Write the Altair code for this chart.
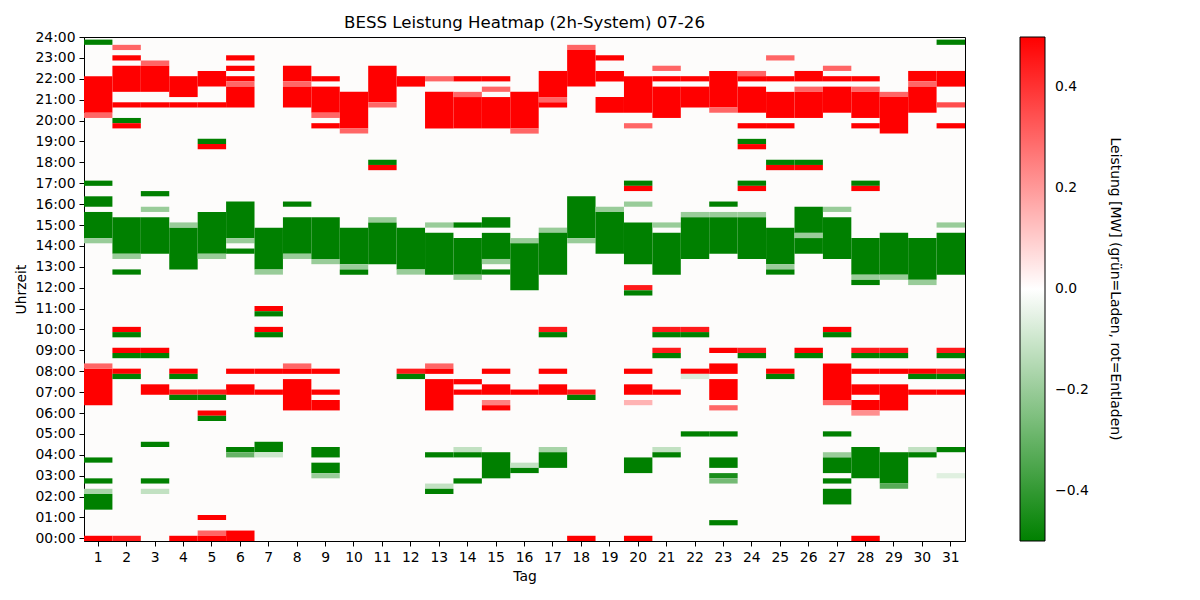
import altair as alt
import pandas as pd

TITLE = "BESS Leistung Heatmap (2h-System) 07-26"
CBAR_LABEL = "Leistung [MW] (grün=Laden, rot=Entladen)"
FONT = "DejaVu Sans"

# per day: (first quarter-hour, last quarter-hour, power in MW); anything not listed is 0
day01 = [("23:45", "23:45", -0.5), ("20:30", "22:00", 0.5), ("20:15", "20:15", 0.3),
         ("17:00", "17:00", -0.5), ("16:00", "16:15", -0.5), ("14:30", "15:30", -0.5),
         ("14:15", "14:15", -0.2), ("08:15", "08:15", 0.3), ("06:30", "08:00", 0.5),
         ("03:45", "03:45", -0.5), ("02:45", "02:45", -0.5), ("02:15", "02:15", -0.17),
         ("01:30", "02:00", -0.5), ("00:00", "00:00", 0.5)]
day02 = [("23:30", "23:30", 0.3), ("23:00", "23:00", 0.5), ("21:30", "22:30", 0.5),
         ("20:45", "20:45", 0.5), ("20:00", "20:00", -0.5), ("19:45", "19:45", 0.5),
         ("13:45", "15:15", -0.5), ("13:30", "13:30", -0.2), ("12:45", "12:45", -0.5),
         ("10:00", "10:00", 0.5), ("09:45", "09:45", -0.5), ("09:00", "09:00", 0.5),
         ("08:45", "08:45", -0.5), ("08:00", "08:00", 0.5), ("07:45", "07:45", -0.5),
         ("00:00", "00:00", 0.45)]
day03 = [("22:45", "22:45", 0.3), ("21:30", "22:30", 0.5), ("20:45", "20:45", 0.5),
         ("16:30", "16:30", -0.5), ("15:45", "15:45", -0.2), ("13:45", "15:15", -0.5),
         ("09:00", "09:00", 0.5), ("08:45", "08:45", -0.5), ("07:00", "07:15", 0.5),
         ("04:30", "04:30", -0.5), ("02:45", "02:45", -0.5), ("02:15", "02:15", -0.12)]
day04 = [("21:15", "22:00", 0.5), ("20:45", "20:45", 0.5), ("15:00", "15:00", -0.2),
         ("13:00", "14:45", -0.5), ("08:00", "08:00", 0.5), ("07:45", "07:45", -0.5),
         ("07:00", "07:00", 0.45), ("06:45", "06:45", -0.5), ("00:00", "00:00", 0.5)]
day05 = [("21:45", "22:15", 0.5), ("20:45", "20:45", 0.5), ("19:00", "19:00", -0.5),
         ("18:45", "18:45", 0.5), ("13:45", "15:30", -0.5), ("13:30", "13:30", -0.2),
         ("07:00", "07:00", 0.45), ("06:45", "06:45", -0.5), ("06:00", "06:00", 0.5),
         ("05:45", "05:45", -0.5), ("01:00", "01:00", 0.5), ("00:15", "00:15", 0.3),
         ("00:00", "00:00", 0.5)]
day06 = [("23:00", "23:00", 0.5), ("22:30", "22:30", 0.5), ("22:00", "22:00", 0.5),
         ("21:45", "21:45", 0.3), ("20:45", "21:30", 0.5), ("14:30", "16:00", -0.5),
         ("14:15", "14:15", -0.2), ("13:45", "13:45", -0.5), ("08:00", "08:00", 0.5),
         ("07:00", "07:15", 0.5), ("04:15", "04:15", -0.5), ("04:00", "04:00", -0.3),
         ("00:00", "00:15", 0.5)]
day07 = [("13:00", "14:45", -0.5), ("12:45", "12:45", -0.2), ("11:00", "11:00", 0.5),
         ("10:45", "10:45", -0.5), ("10:00", "10:00", 0.5), ("09:45", "09:45", -0.5),
         ("08:00", "08:00", 0.5), ("07:00", "07:00", 0.5), ("04:15", "04:30", -0.5),
         ("04:00", "04:00", -0.1)]
day08 = [("22:00", "22:30", 0.5), ("21:45", "21:45", 0.3), ("20:45", "21:30", 0.5),
         ("16:00", "16:00", -0.5), ("13:45", "15:15", -0.5), ("13:30", "13:30", -0.2),
         ("08:15", "08:15", 0.3), ("08:00", "08:00", 0.5), ("06:15", "07:30", 0.5)]
day09 = [("22:00", "22:00", 0.5), ("20:30", "21:30", 0.5), ("20:15", "20:15", 0.3),
         ("19:45", "19:45", 0.5), ("13:30", "15:15", -0.5), ("13:15", "13:15", -0.2),
         ("08:00", "08:00", 0.5), ("07:00", "07:00", 0.5), ("06:15", "06:30", 0.5),
         ("04:00", "04:15", -0.5), ("03:15", "03:30", -0.5), ("03:00", "03:00", -0.2)]
day10 = [("19:45", "21:15", 0.5), ("19:30", "19:30", 0.3), ("13:15", "14:45", -0.5),
         ("13:00", "13:00", -0.2), ("12:45", "12:45", -0.5)]
day11 = [("21:00", "22:30", 0.5), ("20:45", "20:45", 0.3), ("18:00", "18:00", -0.5),
         ("17:45", "17:45", 0.5), ("15:15", "15:15", -0.2), ("13:15", "15:00", -0.5)]
day12 = [("21:45", "22:00", 0.5), ("13:00", "14:45", -0.5), ("12:45", "12:45", -0.2),
         ("08:00", "08:00", 0.45), ("07:45", "07:45", -0.5)]
day13 = [("22:00", "22:00", 0.3), ("19:45", "21:15", 0.5), ("15:00", "15:00", -0.2),
         ("12:45", "14:30", -0.5), ("08:15", "08:15", 0.3), ("08:00", "08:00", 0.5),
         ("06:15", "07:30", 0.5), ("04:00", "04:00", -0.5), ("02:30", "02:30", -0.12),
         ("02:15", "02:15", -0.5)]
day14 = [("22:00", "22:00", 0.5), ("21:15", "21:15", 0.3), ("19:45", "21:00", 0.5),
         ("15:00", "15:00", -0.5), ("12:45", "14:15", -0.5), ("12:30", "12:30", -0.2),
         ("07:30", "07:30", 0.5), ("07:00", "07:00", 0.5), ("04:15", "04:15", -0.12),
         ("04:00", "04:00", -0.5), ("02:45", "02:45", -0.5)]
day15 = [("22:00", "22:00", 0.5), ("21:30", "21:30", 0.3), ("19:45", "21:00", 0.5),
         ("15:00", "15:15", -0.5), ("13:30", "14:30", -0.5), ("13:15", "13:15", -0.2),
         ("12:45", "12:45", -0.5), ("08:00", "08:00", 0.5), ("07:00", "07:15", 0.5),
         ("06:30", "06:30", 0.25), ("06:15", "06:15", 0.5), ("03:00", "04:00", -0.5)]
day16 = [("19:45", "21:15", 0.5), ("19:30", "19:30", 0.3), ("14:15", "14:15", -0.2),
         ("12:00", "14:00", -0.5), ("07:00", "07:00", 0.5), ("03:30", "03:30", -0.12),
         ("03:15", "03:15", -0.5)]
day17 = [("21:15", "22:15", 0.5), ("21:00", "21:00", 0.3), ("20:45", "20:45", 0.5),
         ("14:45", "14:45", -0.2), ("12:45", "14:30", -0.5), ("10:00", "10:00", 0.45),
         ("09:45", "09:45", -0.5), ("08:00", "08:00", 0.5), ("07:00", "07:15", 0.5),
         ("04:15", "04:15", -0.17), ("03:30", "04:00", -0.5)]
day18 = [("23:30", "23:30", 0.3), ("21:45", "23:15", 0.5), ("14:30", "16:15", -0.5),
         ("14:15", "14:15", -0.2), ("07:00", "07:00", 0.45), ("06:45", "06:45", -0.5),
         ("00:00", "00:00", 0.5)]
day19 = [("23:00", "23:00", 0.5), ("22:00", "22:15", 0.5), ("20:30", "21:00", 0.5),
         ("15:45", "15:45", -0.2), ("13:45", "15:30", -0.5)]
day20 = [("20:30", "22:00", 0.5), ("19:45", "19:45", 0.3), ("17:00", "17:00", -0.5),
         ("16:45", "16:45", 0.5), ("16:00", "16:00", -0.2), ("13:15", "15:00", -0.5),
         ("12:00", "12:00", 0.45), ("11:45", "11:45", -0.5), ("08:00", "08:00", 0.5),
         ("07:00", "07:15", 0.5), ("06:30", "06:30", 0.15), ("03:15", "03:45", -0.5),
         ("00:00", "00:00", 0.5)]
day21 = [("22:30", "22:30", 0.3), ("22:00", "22:00", 0.5), ("20:15", "21:30", 0.5),
         ("15:00", "15:00", -0.2), ("12:45", "14:30", -0.5), ("10:00", "10:00", 0.45),
         ("09:45", "09:45", -0.5), ("09:00", "09:00", 0.45), ("08:45", "08:45", -0.5),
         ("07:00", "07:00", 0.5), ("04:15", "04:15", -0.12), ("04:00", "04:00", -0.5)]
day22 = [("22:00", "22:00", 0.5), ("20:45", "21:30", 0.5), ("15:30", "15:30", -0.2),
         ("13:30", "15:15", -0.5), ("10:00", "10:00", 0.45), ("09:45", "09:45", -0.5),
         ("08:00", "08:00", 0.5), ("07:45", "07:45", -0.07), ("05:00", "05:00", -0.5)]
day23 = [("20:45", "22:15", 0.5), ("20:30", "20:30", 0.3), ("16:00", "16:00", -0.5),
         ("15:30", "15:30", -0.2), ("13:45", "15:15", -0.5), ("09:00", "09:00", 0.5),
         ("08:00", "08:15", 0.5), ("06:45", "07:30", 0.5), ("06:15", "06:15", 0.3),
         ("05:00", "05:00", -0.5), ("03:30", "03:45", -0.5), ("03:00", "03:00", -0.45),
         ("02:45", "02:45", -0.27), ("00:45", "00:45", -0.5)]
day24 = [("22:15", "22:15", 0.3), ("22:00", "22:00", 0.5), ("20:30", "21:30", 0.5),
         ("19:45", "19:45", 0.5), ("19:00", "19:00", -0.5), ("18:45", "18:45", 0.5),
         ("17:00", "17:00", -0.5), ("16:45", "16:45", 0.5), ("15:30", "15:30", -0.2),
         ("13:30", "15:15", -0.5), ("09:00", "09:00", 0.45), ("08:45", "08:45", -0.5)]
day25 = [("23:00", "23:00", 0.3), ("22:00", "22:00", 0.5), ("20:15", "21:15", 0.5),
         ("19:45", "19:45", 0.5), ("18:00", "18:00", -0.5), ("17:45", "17:45", 0.5),
         ("13:15", "14:45", -0.5), ("13:00", "13:00", -0.2), ("12:45", "12:45", -0.5),
         ("08:00", "08:00", 0.5), ("07:45", "07:45", -0.5)]
day26 = [("22:00", "22:15", 0.5), ("21:30", "21:30", 0.3), ("20:15", "21:15", 0.5),
         ("18:00", "18:00", -0.5), ("17:45", "17:45", 0.5), ("14:45", "15:45", -0.5),
         ("14:30", "14:30", -0.2), ("13:45", "14:15", -0.5), ("09:00", "09:00", 0.5),
         ("08:45", "08:45", -0.5)]
day27 = [("22:30", "22:30", 0.3), ("22:00", "22:00", 0.5), ("20:30", "21:30", 0.5),
         ("15:45", "15:45", -0.2), ("13:30", "15:15", -0.5), ("10:00", "10:00", 0.5),
         ("09:45", "09:45", -0.5), ("06:45", "08:15", 0.5), ("06:30", "06:30", 0.3),
         ("05:00", "05:00", -0.5), ("04:00", "04:00", -0.2), ("03:15", "03:45", -0.5),
         ("02:45", "02:45", -0.5), ("01:45", "02:15", -0.5)]
day28 = [("22:00", "22:00", 0.5), ("21:30", "21:30", 0.3), ("20:15", "21:15", 0.5),
         ("19:45", "19:45", 0.5), ("17:00", "17:00", -0.5), ("16:45", "16:45", 0.5),
         ("12:45", "14:15", -0.5), ("12:30", "12:30", -0.2), ("12:15", "12:15", -0.5),
         ("09:00", "09:00", 0.45), ("08:45", "08:45", -0.5), ("08:00", "08:00", 0.5),
         ("07:00", "07:15", 0.5), ("06:15", "06:30", 0.5), ("06:00", "06:00", 0.22),
         ("03:00", "04:15", -0.5), ("00:00", "00:00", 0.5)]
day29 = [("21:15", "21:15", 0.3), ("19:30", "21:00", 0.5), ("12:45", "14:30", -0.5),
         ("12:30", "12:30", -0.2), ("09:00", "09:00", 0.45), ("08:45", "08:45", -0.5),
         ("08:00", "08:00", 0.5), ("06:15", "07:15", 0.5), ("02:45", "04:00", -0.5),
         ("02:30", "02:30", -0.33)]
day30 = [("22:00", "22:15", 0.5), ("21:45", "21:45", 0.3), ("20:30", "21:30", 0.5),
         ("12:30", "14:15", -0.5), ("12:15", "12:15", -0.2), ("08:00", "08:00", 0.5),
         ("07:45", "07:45", -0.5), ("07:00", "07:00", 0.5), ("04:15", "04:15", -0.12),
         ("04:00", "04:00", -0.5)]
day31 = [("23:45", "23:45", -0.5), ("21:45", "22:15", 0.5), ("20:45", "20:45", 0.35),
         ("19:45", "19:45", 0.5), ("15:00", "15:00", -0.2), ("12:45", "14:30", -0.5),
         ("09:00", "09:00", 0.45), ("08:45", "08:45", -0.5), ("08:00", "08:00", 0.45),
         ("07:45", "07:45", -0.5), ("07:00", "07:00", 0.5), ("04:15", "04:15", -0.5),
         ("03:00", "03:00", -0.06)]

days = [day01, day02, day03, day04, day05, day06, day07, day08, day09, day10,
        day11, day12, day13, day14, day15, day16, day17, day18, day19, day20,
        day21, day22, day23, day24, day25, day26, day27, day28, day29, day30, day31]

hour_ticks = list(range(25))
cbar_ticks = [-0.4, -0.2, 0.0, 0.2, 0.4]


def hours(hhmm):
    h, m = hhmm.split(":")
    return int(h) + int(m) / 60


# each quarter-hour cell is centred on its timestamp
records = []
for tag, segments in enumerate(days, start=1):
    for start, end, value in segments:
        records.append({"Tag": tag, "von": hours(start) - 0.125,
                        "bis": hours(end) + 0.125, "Leistung": value})
df = pd.DataFrame(records)

heat = alt.Chart(df).mark_rect().encode(
    x=alt.X("Tag:O", title="Tag",
            scale=alt.Scale(paddingInner=0, paddingOuter=0),
            axis=alt.Axis(labelAngle=0)),
    y=alt.Y("von:Q", title="Uhrzeit",
            scale=alt.Scale(domain=[-0.125, 24], nice=False, zero=False),
            axis=alt.Axis(values=hour_ticks,
                          labelExpr="(datum.value < 10 ? '0' : '') + datum.value + ':00'")),
    y2="bis:Q",
    color=alt.Color("Leistung:Q", title=None,
                    scale=alt.Scale(domain=[-0.5, 0, 0.5], interpolate="rgb",
                                    range=["#008000", "#ffffff", "#ff0000"]),
                    legend=alt.Legend(orient="none", legendX=936, legendY=0,
                                      direction="vertical", gradientLength=504,
                                      gradientThickness=25, values=cbar_ticks,
                                      labelExpr="replace(format(datum.value, '.1f'), '-', '\u2212')",
                                      labelFontSize=13.9, labelOffset=10, labelOverlap=False,
                                      labelColor="black",
                                      gradientStrokeColor="black", gradientStrokeWidth=1)),
)

cbar_title = alt.Chart(pd.DataFrame({"t": [CBAR_LABEL]})).mark_text(
    angle=90, fontSize=13.9, font=FONT, align="center", baseline="middle", color="black"
).encode(x=alt.value(1031), y=alt.value(252), text="t:N")

chart = alt.layer(heat, cbar_title).properties(
    width=881, height=504,
    title=alt.Title(TITLE, fontSize=16.6, fontWeight="normal", font=FONT, offset=-2, color="black"),
    autosize=alt.AutoSizeParams(type="none"),
    padding={"left": 76, "top": 29, "right": 215, "bottom": 45},
).configure(font=FONT).configure_view(
    stroke="black", strokeWidth=1, fill="#fdfcfb"
).configure_axis(
    labelFont=FONT, titleFont=FONT, labelFontSize=13.9, titleFontSize=13.9,
    titleFontWeight="normal", labelColor="black", titleColor="black",
    tickColor="black", domainColor="black", tickSize=5, labelPadding=4,
    titlePadding=6, grid=False,
)

chart.save("out.html", embed_options={"renderer": "svg", "actions": False})
